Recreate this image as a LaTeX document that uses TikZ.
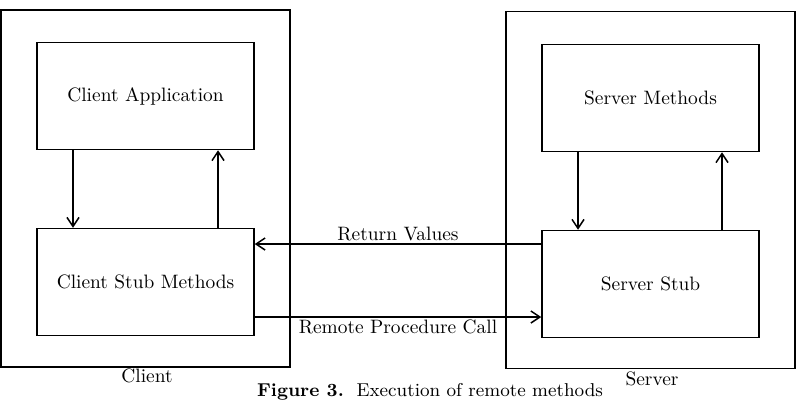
\documentclass[tikz,border=0pt]{standalone}
\usetikzlibrary{arrows.meta}
\begin{document}
\begin{tikzpicture}[x=0.5pt,y=-0.5pt,
  font=\fontsize{9.7}{12}\selectfont,
  line width=0.75pt,
  outerbox/.style={draw,minimum width=144.5pt,minimum height=178.5pt,inner sep=0pt},
  innerbox/.style={draw,minimum width=108.5pt,minimum height=53.5pt,inner sep=0pt},
  conn/.style={-{Straight Barb[length=4.5pt,width=6pt]}},
  lbl/.style={inner sep=1pt}]
\useasboundingbox (0,0) rectangle (796,402);
% client side
\node[outerbox] (client) at (145.5,188.5) {};
\node[innerbox] (capp) at (145.5,96) {Client Application};
\node[innerbox] (cstub) at (145.5,282) {Client Stub Methods};
\node[anchor=base] (clientlbl) at (147,382) {Client};
% server side
\node[outerbox] (server) at (650.5,190) {};
\node[innerbox] (smeth) at (650.5,98) {Server Methods};
\node[innerbox] (sstub) at (650.5,284) {Server Stub};
\node[anchor=base] (serverlbl) at (652,385) {Server};
% vertical connectors
\draw[conn] (capp.south -| 73,0) -- (cstub.north -| 73,0);
\draw[conn] (cstub.north -| 218,0) -- (capp.south -| 218,0);
\draw[conn] (smeth.south -| 578,0) -- (sstub.north -| 578,0);
\draw[conn] (sstub.north -| 722,0) -- (smeth.south -| 722,0);
% horizontal connectors
\draw[conn] (sstub.west |- 0,244) -- (cstub.east |- 0,244)
  node[midway,above,lbl] (rv) {Return Values};
\draw[conn] (cstub.east |- 0,317) -- (sstub.west |- 0,317)
  node[midway,below,lbl] (rpc) {Remote Procedure Call};
% caption
\node[anchor=base,font=\fontsize{9.3}{11}\selectfont] (caption) at (430,396) {\textbf{Figure 3.}\ \ Execution of remote methods};
\end{tikzpicture}
\end{document}
